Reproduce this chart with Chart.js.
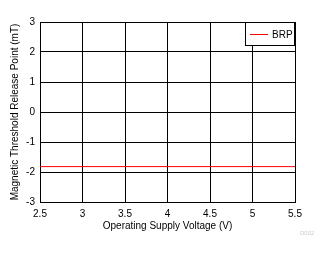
<!DOCTYPE html>
<html>
<head>
<meta charset="utf-8">
<script src="https://cdn.jsdelivr.net/npm/chart.js@4"></script>
<style>
  html, body { margin: 0; padding: 0; background: #fff; }
  canvas { display: block; }
</style>
</head>
<body>
<canvas id="chart" width="328" height="254"></canvas>
<script>
// === DATA ===
const voltages = [2.5, 3, 3.5, 4, 4.5, 5, 5.5];
const brpValues = [-1.82, -1.82, -1.82, -1.82, -1.82, -1.82, -1.82];
const seriesLabel = "BRP";
const xTitle = "Operating Supply Voltage (V)";
const yTitle = "Magnetic Threshold Release Point (mT)";
const figureTag = "D002";

const FONT = "'Liberation Sans', Arial, sans-serif";

// legend box drawn inside the plot, top right
const boxLegend = {
    id: "boxLegend",
    afterDraw(chart) {
        const c = chart.ctx;
        const a = chart.chartArea;
        const ds = chart.data.datasets[0];
        const x1 = a.right - 50, y1 = a.top, w = 50, h = 24;
        c.save();
        c.fillStyle = "#fff";
        c.fillRect(x1, y1, w, h);
        c.strokeStyle = "#000";
        c.lineWidth = 1;
        c.strokeRect(x1 + 0.5, y1 + 0.5, w - 1, h - 1);
        c.strokeStyle = ds.borderColor;
        c.beginPath();
        c.moveTo(x1 + 5, y1 + 12.5);
        c.lineTo(x1 + 23, y1 + 12.5);
        c.stroke();
        c.fillStyle = "#000";
        c.font = "10px " + FONT;
        c.textBaseline = "middle";
        c.fillText(ds.label, x1 + 27, y1 + 13);
        // little figure tag under the chart
        c.fillStyle = "#ccc";
        c.font = "6px " + FONT;
        c.fillText(figureTag, 300, 233);
        c.restore();
    },
};

const ctx = document.getElementById("chart").getContext("2d");
const chart = new Chart(ctx,
{
    type: "line",
    data: {
        labels: voltages,
        datasets: [
            {
                label: seriesLabel,
                data: voltages.map((v, i) => ({ x: v, y: brpValues[i] })),
                borderColor: "#ff0000",
                borderWidth: 1,
                pointRadius: 0,
                tension: 0,
            },
        ],
    },
    options: {
        responsive: false,
        animation: false,
        layout: { padding: { left: 0, top: 22, right: 33, bottom: 0 } },
        plugins: {
            legend: { display: false },
            tooltip: { enabled: false },
        },
        scales: {
            x: {
                type: "linear",
                min: 2.5,
                max: 5.5,
                ticks: {
                    stepSize: 0.5,
                    color: "#000",
                    padding: 6,
                    font: { family: FONT, size: 10 },
                    callback: (v) => String(v), // 3, not 3.0
                },
                grid: { color: "#000", drawTicks: false },
                border: { color: "#000" },
                title: { display: true, text: xTitle, color: "#000", padding: { top: 0, bottom: 22 }, font: { family: FONT, size: 10 } },
                afterFit(s) { s.height = 52; },
            },
            y: {
                min: -3,
                max: 3,
                ticks: { stepSize: 1, color: "#000", padding: 5, font: { family: FONT, size: 10 } },
                grid: { color: "#000", drawTicks: false },
                border: { color: "#000" },
                title: { display: true, text: yTitle, color: "#000", padding: { top: 9, bottom: 0 }, font: { family: FONT, size: 10 } },
                afterFit(s) { s.width = 40; },
            },
        },
    },
    plugins: [boxLegend],
});
</script>
</body>
</html>
